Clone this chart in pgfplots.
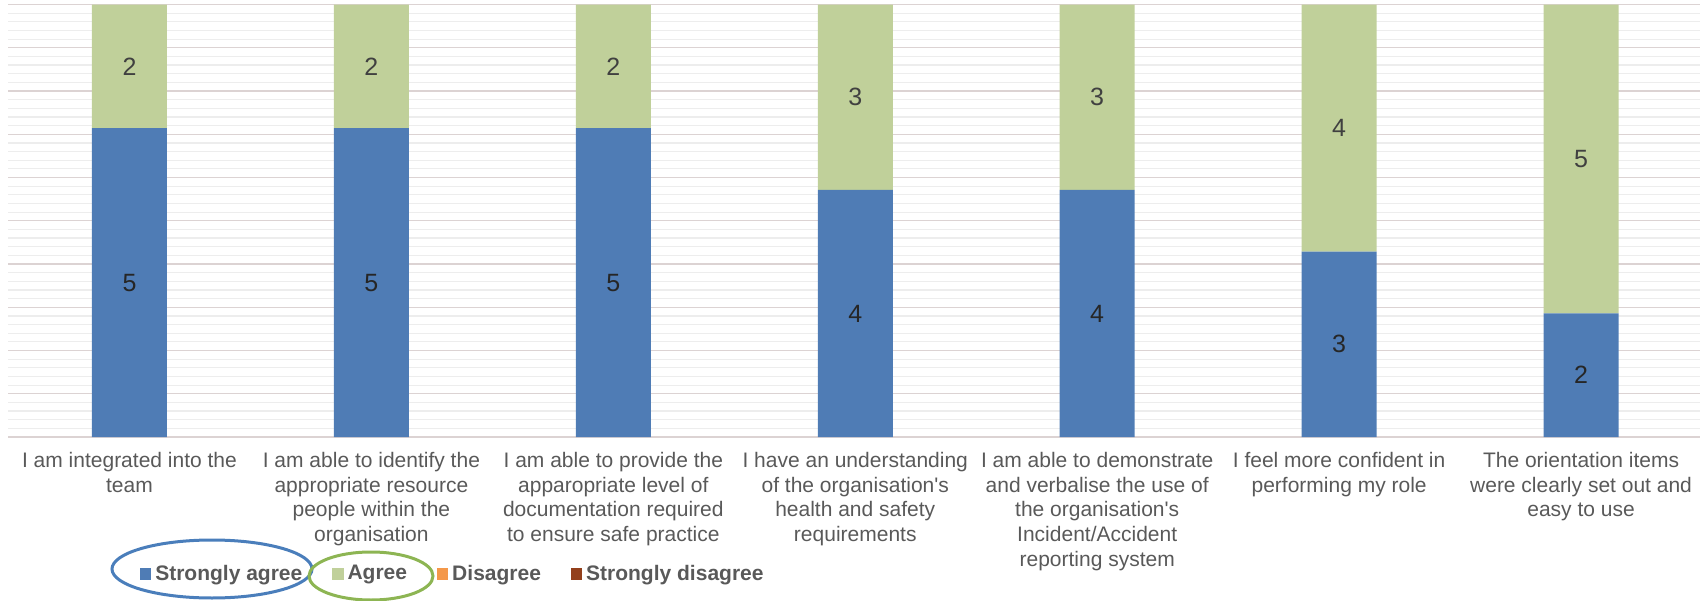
\documentclass[border=0pt]{standalone}
\usepackage{pgfplots}
\pgfplotsset{compat=1.18}
\usepackage{pgfplotstable}
\usepackage{fontspec}
\setmainfont{Liberation Sans}
\definecolor{sablue}{HTML}{4F7CB5}
\definecolor{aggreen}{HTML}{C0D09A}
\definecolor{disorange}{HTML}{F4984A}
\definecolor{sdred}{HTML}{93401C}
\definecolor{lbl}{HTML}{595959}
\definecolor{numc}{HTML}{262626}
\definecolor{numg}{HTML}{404040}
\definecolor{majgrid}{HTML}{DCD3D3}
\definecolor{mingrid}{HTML}{EDEDED}
\definecolor{ellblue}{HTML}{4A7EBB}
\definecolor{ellgreen}{HTML}{8DB553}

\pgfplotstableread{
x sa ag di sd
0 5 2 0 0
1 5 2 0 0
2 5 2 0 0
3 4 3 0 0
4 4 3 0 0
5 3 4 0 0
6 2 5 0 0
}\data

\begin{document}
\begin{tikzpicture}
\useasboundingbox (0,0) rectangle (850pt,300pt);
\begin{axis}[
  at={(4.25pt,81.5pt)}, anchor=south west,
  scale only axis, width=846.75pt, height=216.25pt,
  ybar stacked, bar width=0.31,
  xmin=-0.5, xmax=6.5, ymin=0, ymax=7,
  axis line style={draw=none},
  /pgf/number format/assume math mode=true,
  xtick=data,
  xticklabels={
    {I am integrated into the\\team},
    {I am able to identify the\\appropriate resource\\people within the\\organisation},
    {I am able to provide the\\apparopriate level of\\documentation required\\to ensure safe practice},
    {I have an understanding\\of the organisation\textquotesingle s\\health and safety\\requirements},
    {I am able to demonstrate\\and verbalise the use of\\the organisation\textquotesingle s\\Incident/Accident\\reporting system},
    {I feel more confident in\\performing my role},
    {The orientation items\\were clearly set out and\\easy to use}},
  xticklabel style={font=\fontsize{10.5}{12.4}\selectfont, text=lbl, align=center, yshift=-4pt},
  major tick length=0pt, minor tick length=0pt,
  ytick={0,0.7,1.4,2.1,2.8,3.5,4.2,4.9,5.6,6.3,7},
  yticklabels={},
  minor y tick num=4,
  ymajorgrids, yminorgrids,
  major grid style={majgrid, line width=0.6pt},
  minor grid style={mingrid, line width=0.6pt},
  legend columns=4,
  legend style={at={(axis description cs:0.0777,-0.3168)}, anchor=west,
    draw=none, fill=none, inner sep=0pt, outer sep=0pt,
    font=\bfseries\fontsize{10.5}{12}\selectfont, text=lbl,
    /tikz/every even column/.append style={column sep=13pt}},
  legend cell align=left,
]
\addplot[fill=sablue, draw=none,
  legend image code/.code={\fill[sablue] (0pt,-2.8pt) rectangle (5.6pt,2.8pt);},
  nodes near coords, point meta=explicit,
  every node near coord/.append style={anchor=center, text=numc, font=\fontsize{12.5}{14}\selectfont}
] table[x=x, y=sa, meta=sa] {\data};
\addplot[fill=aggreen, draw=none,
  legend image code/.code={\fill[aggreen] (0pt,-2.8pt) rectangle (5.6pt,2.8pt);},
  nodes near coords, point meta=explicit,
  every node near coord/.append style={anchor=center, text=numg, font=\fontsize{12.5}{14}\selectfont}
] table[x=x, y=ag, meta=ag] {\data};
\addplot[fill=disorange, draw=none,
  legend image code/.code={\fill[disorange] (0pt,-2.8pt) rectangle (5.6pt,2.8pt);}
] table[x=x, y=di] {\data};
\addplot[fill=sdred, draw=none,
  legend image code/.code={\fill[sdred] (0pt,-2.8pt) rectangle (5.6pt,2.8pt);}
] table[x=x, y=sd] {\data};
\legend{Strongly agree, Agree, Disagree, Strongly disagree}
\end{axis}
\draw[ellblue, line width=1.5pt] (106pt,15.5pt) ellipse [x radius=50pt, y radius=14.5pt];
\draw[ellgreen, line width=1.5pt] (185.5pt,12pt) ellipse [x radius=31pt, y radius=12pt];
\end{tikzpicture}
\end{document}
